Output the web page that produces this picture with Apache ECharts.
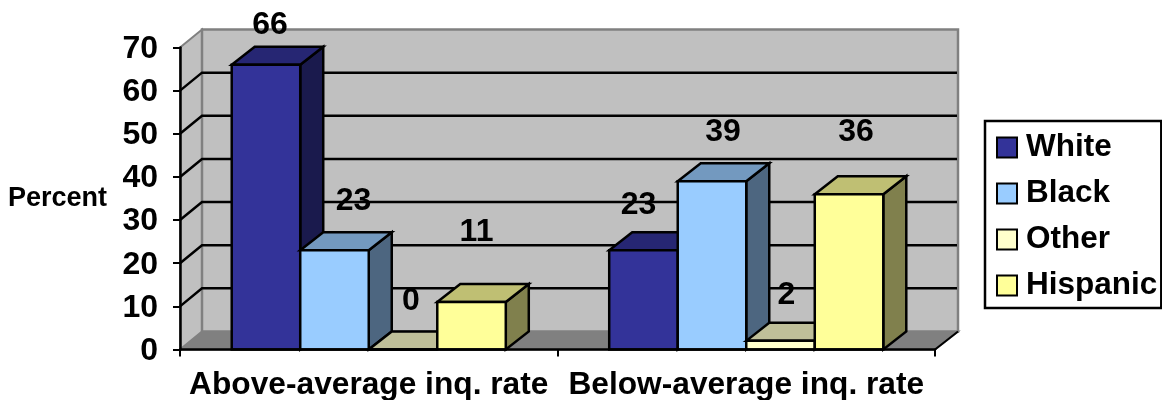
<!DOCTYPE html>
<html>
<head>
<meta charset="utf-8">
<style>html,body{margin:0;padding:0;background:#fff}#chart{width:1162px;height:400px}</style>
<script src="https://cdn.jsdelivr.net/npm/echarts@6/dist/echarts.min.js"></script>
</head>
<body>
<div id="chart"></div>
<script>
const categories = ['Above-average inq. rate', 'Below-average inq. rate'];
const seriesNames = ['White', 'Black', 'Other', 'Hispanic'];
const white = [66, 23];
const black = [23, 39];
const other = [0, 2];
const hispanic = [11, 36];
const gridValues = [10, 20, 30, 40, 50, 60];

// Shades per series: front, top (lit), side (shadow)
const shades = [
  ['#333399', '#262673', '#1a1a4d'],
  ['#99ccff', '#7399bf', '#4d6680'],
  ['#ffffcc', '#bfbf99', '#808066'],
  ['#ffff99', '#bfbf73', '#80804d']
];
// Hand placement of each value label relative to its bar's front-top centre: [dx, dy] per category
const labelNudge = [
  [[4, -40], [-5, -45]],
  [[19, -49], [11, -49]],
  [[8, -48], [6, -46]],
  [[5, -70], [7, -62]]
];

const FONT = '"Liberation Sans", Arial, sans-serif';
const DEPTH_X = 23, DEPTH_Y = 18;   // oblique projection of the depth axis
const BAR_SHARE = 0.1815;           // one bar's width as a share of the category band
const EDGE = 2.5;
const poly = (points, fill, stroke, lineWidth) => ({
  type: 'polygon',
  shape: { points },
  style: { fill, stroke, lineWidth, lineJoin: 'miter' }
});

// Floor and the two walls of the box
function renderRoom(params, api) {
  const cs = params.coordSys;
  const L = cs.x, R = cs.x + cs.width, T = cs.y, B = cs.y + cs.height;
  const dx = DEPTH_X - 1, dy = DEPTH_Y;
  return {
    type: 'group',
    children: [
      poly([[L, B], [L + dx, B - dy], [R + DEPTH_X, B - dy], [R, B]], '#808080', '#808080', 2),
      poly([[L, T], [L + dx, T - dy], [L + dx, B - dy], [L, B]], '#c0c0c0', '#808080', 2),
      poly([[L + dx, T - dy], [R + DEPTH_X, T - dy], [R + DEPTH_X, B - dy], [L + dx, B - dy]], '#c0c0c0', '#808080', 2.5),
      { type: 'line', shape: { x1: R, y1: B, x2: R + DEPTH_X, y2: B - dy }, style: { stroke: '#000', lineWidth: 2 } }
    ]
  };
}

// One gridline: runs across the left wall, then along the back wall
function renderGridline(params, api) {
  const cs = params.coordSys;
  const y = api.coord([0, api.value(1)])[1];
  const L = cs.x, R = cs.x + cs.width;
  return {
    type: 'polyline',
    shape: { points: [[L, y], [L + DEPTH_X - 1, y - DEPTH_Y], [R + DEPTH_X - 1, y - DEPTH_Y]] },
    style: { fill: null, stroke: '#000', lineWidth: EDGE }
  };
}

// One 3D column of a series, positioned inside its category band
function barRenderer(seriesIdx) {
  return function (params, api) {
    const cat = api.value(0), val = api.value(1);
    const band = api.size([1, 0])[0];
    const w = band * BAR_SHARE;
    const center = api.coord([cat, val]);
    const base = api.coord([cat, 0]);
    const x0 = center[0] + (seriesIdx - 2) * w;
    const x1 = x0 + w;
    const yT = center[1], yB = base[1];
    const [front, top, side] = shades[seriesIdx];
    const nudge = labelNudge[seriesIdx][cat];
    return {
      type: 'group',
      children: [
        poly([[x1, yT], [x1 + DEPTH_X, yT - DEPTH_Y], [x1 + DEPTH_X, yB - DEPTH_Y], [x1, yB]], side, '#000', EDGE),
        poly([[x0, yT], [x0 + DEPTH_X, yT - DEPTH_Y], [x1 + DEPTH_X, yT - DEPTH_Y], [x1, yT]], top, '#000', EDGE),
        poly([[x0, yT], [x1, yT], [x1, yB], [x0, yB]], front, '#000', EDGE),
        {
          type: 'text',
          z2: 50,
          style: {
            x: (x0 + x1) / 2 + nudge[0],
            y: yT + nudge[1],
            text: String(val),
            fill: '#000',
            font: 'bold 32px ' + FONT,
            align: 'center',
            verticalAlign: 'middle'
          }
        }
      ]
    };
  };
}

const seriesValues = [white, black, other, hispanic];
const barSeries = seriesNames.map((name, i) => ({
  name,
  type: 'custom',
  renderItem: barRenderer(i),
  itemStyle: { color: shades[i][0], borderColor: '#000', borderWidth: 2.5 },
  encode: { x: 0, y: 1 },
  data: seriesValues[i].map((v, c) => [c, v]),
  z: 3
}));

const chart = echarts.init(document.getElementById('chart'), null, { renderer: 'canvas' });
chart.setOption({
  animation: false,
  backgroundColor: '#fff',
  textStyle: { fontFamily: FONT },
  grid: { left: 180, right: 227, top: 47.5, bottom: 50.5, outerBoundsMode: 'none' },
  legend: {
    data: seriesNames,
    orient: 'vertical',
    left: 985,
    top: 121,
    padding: [5, 4, 1, 11],
    itemWidth: 20,
    itemHeight: 20,
    itemGap: 3,
    icon: 'rect',
    borderColor: '#000',
    borderWidth: 2.5,
    backgroundColor: '#fff',
    textStyle: { fontFamily: FONT, fontWeight: 'bold', fontSize: 31.5, lineHeight: 36, color: '#000', padding: [7, 0, 0, 4] }
  },
  xAxis: {
    type: 'category',
    data: categories,
    z: 10,
    axisLine: { lineStyle: { color: '#000', width: 2.5 } },
    axisTick: { show: true, length: 7, lineStyle: { color: '#000', width: 2 } },
    axisLabel: { interval: 0, color: '#000', fontFamily: FONT, fontWeight: 'bold', fontSize: 31.7, margin: 20 }
  },
  yAxis: {
    type: 'value',
    min: 0,
    max: 70,
    interval: 10,
    z: 10,
    name: 'Percent',
    nameLocation: 'middle',
    nameRotate: 0,
    nameGap: 73,
    nameTextStyle: { color: '#000', fontFamily: FONT, fontWeight: 'bold', fontSize: 27, padding: [10, 0, 0, 0] },
    splitLine: { show: false },
    axisLine: { show: true, lineStyle: { color: '#000', width: 2.5 } },
    axisTick: { show: true, length: 7, lineStyle: { color: '#000', width: 2 } },
    axisLabel: { color: '#000', fontFamily: FONT, fontWeight: 'bold', fontSize: 32, margin: 22, verticalAlign: 'top', lineHeight: 3 }
  },
  series: [
    { type: 'custom', silent: true, renderItem: renderRoom, data: [[0, 0]], z: 1 },
    { type: 'custom', silent: true, renderItem: renderGridline, encode: { x: 0, y: 1 }, data: gridValues.map(v => [0, v]), z: 2 },
    ...barSeries
  ]
});
</script>
</body>
</html>
